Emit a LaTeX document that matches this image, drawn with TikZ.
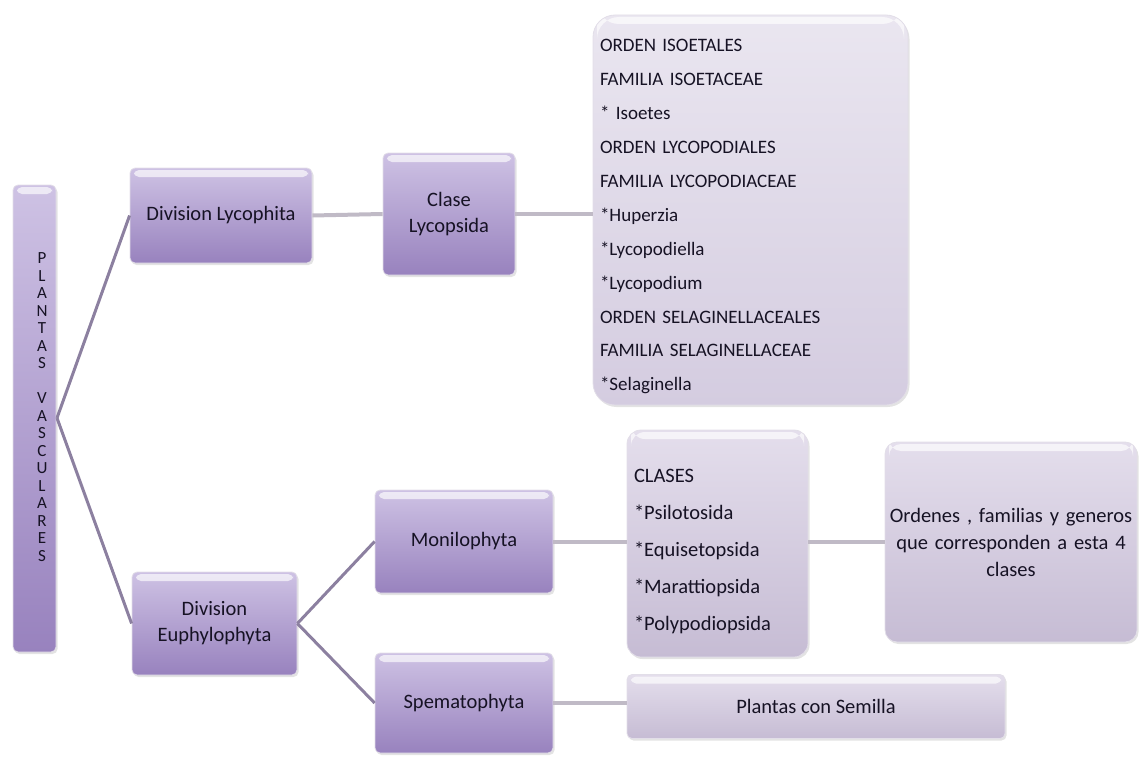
\documentclass[tikz,border=0pt]{standalone}
\usepackage{fontspec}
\setmainfont{Carlito}
\usetikzlibrary{shadows}
\definecolor{dkTop}{RGB}{206,194,228}
\definecolor{dkBot}{RGB}{152,130,190}
\definecolor{ltTop}{RGB}{228,222,236}
\definecolor{ltBot}{RGB}{198,188,212}
\definecolor{bgTop}{RGB}{234,230,240}
\definecolor{bgBot}{RGB}{212,204,224}
\definecolor{lineMain}{RGB}{140,128,160}
\definecolor{lineLight}{RGB}{192,186,198}
\definecolor{txt}{RGB}{22,18,36}
\definecolor{edge}{RGB}{226,222,232}
\begin{document}
\begin{tikzpicture}[x=1pt,y=-1pt,
  box/.style={draw=edge, line width=0.8pt, inner sep=0pt, text=txt, align=center,
    drop shadow={opacity=0.22, shadow xshift=1.5pt, shadow yshift=-2pt},
    path picture={\fill[white,opacity=0.65] ([xshift=4pt,yshift=-2pt]path picture bounding box.north west) rectangle ([xshift=-4pt,yshift=-9pt]path picture bounding box.north east);}},
  dark/.style={box, top color=dkTop, bottom color=dkBot, rounded corners=5pt, font=\fontsize{20.5}{26}\selectfont},
  light/.style={box, top color=ltTop, bottom color=ltBot, font=\fontsize{20.5}{27}\selectfont},
  conn/.style={draw=lineMain, line width=3pt},
  hconn/.style={draw=lineLight, line width=4pt}]
\useasboundingbox (0,0) rectangle (1140,757);

\coordinate (hub) at (57,418);

% nodes
\node[dark, minimum width=43pt, minimum height=467pt] (root) at (34.5,418.5) {};
\node[text=txt, align=center, font=\fontsize{17}{17.5}\selectfont] (roottext) at (42,407)
  {P\\L\\A\\N\\T\\A\\S\\[0pt]\strut\\V\\A\\S\\C\\U\\L\\A\\R\\E\\S};

\node[dark, minimum width=182pt, minimum height=95pt] (lyco) at (221,215.5) {Division Lycophita};
\node[dark, minimum width=132pt, minimum height=122pt] (clase) at (449,214) {Clase\\Lycopsida};
\node[box, top color=bgTop, bottom color=bgBot, rounded corners=22pt,
      minimum width=315pt, minimum height=390pt, text width=301pt, align=left,
      font=\fontsize{19}{33.9}\selectfont] (big) at (750.5,210)
  {\rule{0pt}{26pt}ORDEN ISOETALES\\FAMILIA ISOETACEAE\\{}* Isoetes\\ORDEN LYCOPODIALES\\FAMILIA LYCOPODIACEAE\\{}*Huperzia\\{}*Lycopodiella\\{}*Lycopodium\\ORDEN SELAGINELLACEALES\\FAMILIA SELAGINELLACEAE\\{}*Selaginella};

\node[dark, minimum width=165pt, minimum height=103pt] (euph) at (214.5,623.5) {Division\\Euphylophyta};
\node[dark, minimum width=178pt, minimum height=103pt] (moni) at (464,541.5) {Monilophyta};
\node[dark, minimum width=178pt, minimum height=100pt] (spem) at (464,703) {Spematophyta};

\node[light, rounded corners=14pt, minimum width=181pt, minimum height=227pt,
      text width=167pt, align=left, font=\fontsize{20.5}{37}\selectfont] (clases) at (717.5,543.5)
  {\rule{0pt}{29pt}CLASES\\{}*Psilotosida\\{}*Equisetopsida\\{}*Marattiopsida\\{}*Polypodiopsida};
\node[light, rounded corners=12pt, minimum width=252pt, minimum height=200pt, text width=248pt] (ordenes) at (1011,542)
  {Ordenes , familias y generos\\que corresponden a esta 4\\clases};
\node[light, rounded corners=5pt, minimum width=378pt, minimum height=64pt] (plantas) at (816,706.5) {Plantas con Semilla};

% connectors
\draw[conn] (hub) -- (lyco.west);
\draw[conn] (hub) -- (euph.west);
\draw[conn] (euph.east) -- (moni.west);
\draw[conn] (euph.east) -- (spem.west);
\draw[hconn] (lyco.east) -- (clase.west);
\draw[hconn] (clase.east) -- (big.west |- clase.east);
\draw[hconn] (moni.east) -- (clases.west |- moni.east);
\draw[hconn] (clases.east |- moni.east) -- (ordenes.west |- moni.east);
\draw[hconn] (spem.east) -- (plantas.west |- spem.east);
\end{tikzpicture}
\end{document}
